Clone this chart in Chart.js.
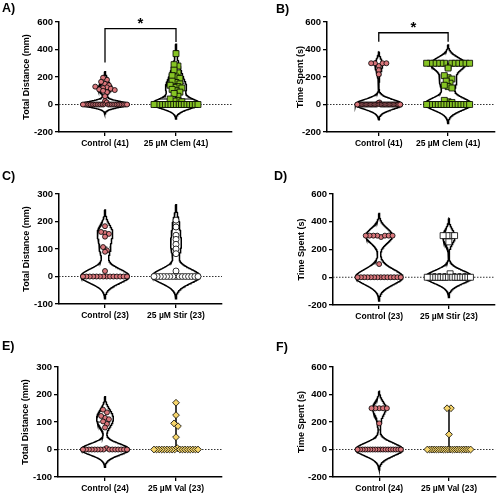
<!DOCTYPE html>
<html>
<head>
<meta charset="utf-8">
<title>Violin plots</title>
<script src="https://cdn.jsdelivr.net/npm/chart.js@4.4.1/dist/chart.umd.min.js"></script>
<style>
  html, body { margin: 0; padding: 0; background: #fff; }
  #wrap { position: relative; width: 500px; height: 493px; overflow: hidden; }
  #wrap canvas { position: absolute; }
</style>
</head>
<body>
<div id="wrap">
  <canvas id="chartA" width="250" height="165" style="left:0;top:0"></canvas>
  <canvas id="chartB" width="250" height="165" style="left:250px;top:0"></canvas>
  <canvas id="chartC" width="250" height="163" style="left:0;top:165px"></canvas>
  <canvas id="chartD" width="250" height="163" style="left:250px;top:165px"></canvas>
  <canvas id="chartE" width="250" height="165" style="left:0;top:328px"></canvas>
  <canvas id="chartF" width="250" height="165" style="left:250px;top:328px"></canvas>
</div>
<script>
// values
const distanceTitle = 'Total Distance (mm)';
const timeTitle = 'Time Spent (s)';

const ticksWide = [-200, 0, 200, 400, 600];
const ticksNarrow = [-100, 0, 100, 200, 300];

const catsA = ['Control (41)', '25 µM Clem (41)'];
const catsC = ['Control (23)', '25 µM Stir (23)'];
const catsE = ['Control (24)', '25 µM Val (23)'];

// A) total distance, clemastine
const controlA = [195, 180, 165, 150, 140, 130, 125, 120, 115, 110, 105, 100, 90, 60, 25, 15,
  0, 0, 0, 0, 0, 0, 0, 0, 0, 0, 0, 0, 0, 0, 0, 0, 0, 0, 0, 0, 0, 0, 0, 0, 0];
const clemA = [370, 290, 280, 250, 230, 210, 200, 190, 170, 160, 150, 140, 130, 125, 120, 110,
  100, 90, 80, 60, 40, 30, 25, 20,
  0, 0, 0, 0, 0, 0, 0, 0, 0, 0, 0, 0, 0, 0, 0, 0, 0];

// B) time spent, clemastine
const controlB = [300, 300, 300, 300, 280, 250, 220, 15, 10,
  0, 0, 0, 0, 0, 0, 0, 0, 0, 0, 0, 0, 0, 0, 0, 0,
  0, 0, 0, 0, 0, 0, 0, 0, 0, 0, 0, 0, 0, 0, 0, 0];
const clemB = [300, 300, 300, 300, 300, 300, 300, 300, 300, 300, 300, 300,
  275, 265, 210, 195, 185, 170, 155, 140, 130, 120, 30, 20, 15,
  0, 0, 0, 0, 0, 0, 0, 0, 0, 0, 0, 0, 0, 0, 0, 0];

// C) total distance, stiripentol
const controlC = [183, 162, 158, 155, 145, 107, 95, 90, 20,
  0, 0, 0, 0, 0, 0, 0, 0, 0, 0, 0, 0, 0, 0];
const stirC = [205, 180, 150, 135, 117, 100, 83, 20,
  0, 0, 0, 0, 0, 0, 0, 0, 0, 0, 0, 0, 0, 0, 0];

// D) time spent, stiripentol
const controlD = [300, 300, 300, 300, 300, 300, 300, 290, 95,
  0, 0, 0, 0, 0, 0, 0, 0, 0, 0, 0, 0, 0, 0];
const stirD = [300, 300, 300, 300, 255, 25,
  0, 0, 0, 0, 0, 0, 0, 0, 0, 0, 0, 0, 0, 0, 0, 0, 0];

// E) total distance, valproate
const controlE = [145, 135, 122, 115, 110, 102, 93, 80, 5,
  0, 0, 0, 0, 0, 0, 0, 0, 0, 0, 0, 0, 0, 0, 0];
const valE = [170, 125, 95, 85, 45, 5,
  0, 0, 0, 0, 0, 0, 0, 0, 0, 0, 0, 0, 0, 0, 0, 0, 0];

// F) time spent, valproate
const controlF = [300, 300, 300, 300, 300, 190,
  0, 0, 0, 0, 0, 0, 0, 0, 0, 0, 0, 0, 0, 0, 0, 0, 0, 0];
const valF = [300, 300, 110,
  0, 0, 0, 0, 0, 0, 0, 0, 0, 0, 0, 0, 0, 0, 0, 0, 0, 0, 0, 0];

// styling
const FONT = '"Liberation Sans", Arial, sans-serif';
const pink = '#d9767b';
const green = '#86c424';
const yellow = '#f6d56b';
const white = '#ffffff';

const ctrlStyle = { marker: 'circle', radius: 2.5, color: pink, smooth: true };

// area = [left, top, right, bottom] of plot box inside each canvas; cx = pixel x of both groups
const panels = [
  { id: 'A', letter: 'A)', lx: 2, ly: 2, cats: catsA, title: distanceTitle, ticks: ticksWide,
    series: [controlA, clemA], area: [59, 22, 232, 132], cx: [105, 176], titleX: 27,
    styles: [ctrlStyle, { marker: 'rect', radius: 4.2, color: green, smooth: true }],
    bracket: { y: 552, ends: [305, 455] } },
  { id: 'B', letter: 'B)', lx: 26, ly: 3, cats: catsA, title: timeTitle, ticks: ticksWide,
    series: [controlB, clemB], area: [77, 22, 249, 132], cx: [130, 201], titleX: 51,
    styles: [ctrlStyle, { marker: 'rect', radius: 4.2, color: green, smooth: true }],
    bracket: { y: 522, ends: [456, 456] } },
  { id: 'C', letter: 'C)', lx: 2, ly: 5, cats: catsC, title: distanceTitle, ticks: ticksNarrow,
    series: [controlC, stirC], area: [59, 29, 222, 139], cx: [105, 176], titleX: 27,
    styles: [ctrlStyle, { marker: 'circle', radius: 3, color: white, smooth: true }] },
  { id: 'D', letter: 'D)', lx: 24, ly: 5, cats: catsC, title: timeTitle, ticks: ticksWide,
    series: [controlD, stirD], area: [83, 29, 248, 140], cx: [130, 201], titleX: 52,
    styles: [ctrlStyle, { marker: 'rect', radius: 4.2, color: white, smooth: true }] },
  { id: 'E', letter: 'E)', lx: 2, ly: 12, cats: catsE, title: distanceTitle, ticks: ticksNarrow,
    series: [controlE, valE], area: [58, 39, 222, 149], cx: [105, 176], titleX: 26,
    styles: [ctrlStyle, { marker: 'rectRot', radius: 3.4, color: yellow, smooth: false }] },
  { id: 'F', letter: 'F)', lx: 26, ly: 13, cats: catsE, title: timeTitle, ticks: ticksWide,
    series: [controlF, valF], area: [83, 39, 248, 149], cx: [130, 201], titleX: 52,
    styles: [ctrlStyle, { marker: 'rectRot', radius: 3.4, color: yellow, smooth: false }] }
];

const HALF_WIDTH = 0.34;   // widest violin half width, in group units
const CUTOFF = 0.006;
const POINT_STEP = 0.055;  // sideways gap between points on one level

function quantile(sorted, p) {
  const n = sorted.length;
  const pos = (n + 1) * p;
  if (pos <= 1) return sorted[0];
  if (pos >= n) return sorted[n - 1];
  const lo = Math.floor(pos);
  return sorted[lo - 1] + (pos - lo) * (sorted[lo] - sorted[lo - 1]);
}

// kernel density outline for one group
function violin(vals, c, smooth) {
  const n = vals.length;
  const mean = vals.reduce((a, b) => a + b, 0) / n;
  const sd = Math.sqrt(vals.reduce((a, b) => a + (b - mean) ** 2, 0) / (n - 1));
  const h = smooth ? 0.7 * sd * Math.pow(n, -0.2) : 0;
  const lo = Math.min(...vals), hi = Math.max(...vals);
  if (!h) return { outline: [{ x: c, y: lo }, { x: c, y: hi }], halfAt: () => 0 };

  const start = lo - 4 * h, end = hi + 4 * h, steps = 300;
  const grid = [];
  for (let k = 0; k <= steps; k++) {
    const y = start + (end - start) * k / steps;
    let d = 0;
    vals.forEach(v => { d += Math.exp(-0.5 * ((y - v) / h) ** 2); });
    grid.push({ y, d });
  }
  const maxD = Math.max(...grid.map(g => g.d));
  const kept = grid.filter(g => g.d >= CUTOFF * maxD);
  const right = kept.map(g => ({ x: c + HALF_WIDTH * g.d / maxD, y: g.y }));
  const left = kept.slice().reverse().map(g => ({ x: c - HALF_WIDTH * g.d / maxD, y: g.y }));
  const outline = right.concat(left);
  outline.push(right[0]);

  const halfAt = y => {
    let d = 0;
    vals.forEach(v => { d += Math.exp(-0.5 * ((y - v) / h) ** 2); });
    return HALF_WIDTH * d / maxD;
  };
  return { outline, halfAt };
}

// spread points that share a level sideways; odd values sit near the middle
function spreadX(vals, c, binSize) {
  const sorted = vals.slice().sort((a, b) => b - a);
  const pts = [];
  let i = 0;
  while (i < sorted.length) {
    let j = i;
    while (j < sorted.length && sorted[i] - sorted[j] <= binSize) j++;
    const row = sorted.slice(i, j);
    const n = row.length;
    const step = n > 1 ? Math.min(POINT_STEP, 0.62 / (n - 1)) : 0;

    const counts = {};
    row.forEach(v => { counts[v] = (counts[v] || 0) + 1; });
    let mode = row[0];
    Object.keys(counts).forEach(k => { if (counts[k] > counts[mode]) mode = Number(k); });
    const ordered = row.filter(v => v !== mode).concat(row.filter(v => v === mode));

    const slots = [];
    for (let k = 0; k < n; k++) slots.push(k - (n - 1) / 2);
    slots.sort((a, b) => Math.abs(a) - Math.abs(b) || b - a);

    ordered.forEach((v, k) => pts.push({ x: c + slots[k] * step, y: v }));
    i = j;
  }
  return pts;
}

const panelDecor = {
  id: 'panelDecor',
  afterDraw(chart, args, opts) {
    const ctx = chart.ctx;
    ctx.save();
    ctx.fillStyle = '#000';
    ctx.font = 'bold 12.5px ' + FONT;
    ctx.textBaseline = 'top';
    ctx.textAlign = 'left';
    ctx.fillText(opts.letter, opts.lx, opts.ly);

    if (opts.bracket) {
      const xs = chart.scales.x, ys = chart.scales.y;
      const x1 = xs.getPixelForValue(1), x2 = xs.getPixelForValue(2);
      const yt = ys.getPixelForValue(opts.bracket.y);
      ctx.strokeStyle = '#000';
      ctx.lineWidth = 1.3;
      ctx.beginPath();
      ctx.moveTo(x1, ys.getPixelForValue(opts.bracket.ends[0]));
      ctx.lineTo(x1, yt);
      ctx.lineTo(x2, yt);
      ctx.lineTo(x2, ys.getPixelForValue(opts.bracket.ends[1]));
      ctx.stroke();

      ctx.font = 'bold 15px ' + FONT;
      ctx.textAlign = 'center';
      ctx.textBaseline = 'alphabetic';
      const m = ctx.measureText('*');
      const mid = yt - 7.5;
      const base = mid + (m.actualBoundingBoxAscent - m.actualBoundingBoxDescent) / 2;
      ctx.fillText('*', (x1 + x2) / 2, base);
    }
    ctx.restore();
  }
};

function buildPanel(p) {
  const canvas = document.getElementById('chart' + p.id);
  const W = canvas.width, H = canvas.height;
  const [L, T, R, B] = p.area;
  const unit = p.cx[1] - p.cx[0];
  const xmin = 1 - (p.cx[0] - L) / unit;
  const xmax = 2 + (R - p.cx[1]) / unit;
  const ymin = p.ticks[0], ymax = p.ticks[p.ticks.length - 1];
  const binSize = (ymax - ymin) * 0.035;
  const padLeft = p.titleX - 9.4;

  const datasets = [{
    data: [{ x: xmin, y: 0 }, { x: xmax, y: 0 }],
    showLine: true, borderColor: '#333', borderWidth: 1, borderDash: [1.5, 1.5],
    pointRadius: 0, order: 4
  }];

  p.series.forEach((vals, i) => {
    const c = i + 1;
    const st = p.styles[i];
    const v = violin(vals, c, st.smooth);
    datasets.push({
      data: v.outline, showLine: true, borderColor: '#000', borderWidth: 1.5,
      pointRadius: 0, tension: 0, order: 3
    });

    if (st.smooth) {
      const sorted = vals.slice().sort((a, b) => a - b);
      const med = quantile(sorted, 0.5);
      [quantile(sorted, 0.25), quantile(sorted, 0.75)].forEach(q => {
        if (q === med) return;
        const w = v.halfAt(q);
        datasets.push({
          data: [{ x: c - w, y: q }, { x: c + w, y: q }], showLine: true,
          borderColor: '#000', borderWidth: 1, borderDash: [3, 2], pointRadius: 0, order: 2
        });
      });
      const wm = v.halfAt(med);
      datasets.push({
        data: [{ x: c - wm, y: med }, { x: c + wm, y: med }], showLine: true,
        borderColor: '#000', borderWidth: 1.2, pointRadius: 0, order: 2
      });
    }

    datasets.push({
      data: spreadX(vals, c, binSize),
      pointStyle: st.marker, pointRadius: st.radius,
      backgroundColor: st.color, borderColor: '#000', borderWidth: 0.8,
      showLine: false, order: 0
    });
  });

  const gridOpts = {
    display: true, drawOnChartArea: false, drawTicks: true,
    tickLength: 4, color: '#000', lineWidth: 1.3
  };

  new Chart(canvas, {
    type: 'scatter',
    data: { datasets },
    options: {
      responsive: false,
      animation: false,
      events: [],
      layout: { padding: { left: padLeft, top: T, right: W - R, bottom: 0 } },
      plugins: {
        legend: { display: false },
        tooltip: { enabled: false },
        panelDecor: { letter: p.letter, lx: p.lx, ly: p.ly, bracket: p.bracket }
      },
      scales: {
        x: {
          type: 'linear', min: xmin, max: xmax,
          afterBuildTicks: s => { s.ticks = [{ value: 1 }, { value: 2 }]; },
          afterFit: s => { s.height = H - B; },
          ticks: {
            callback: v => p.cats[v - 1] || '',
            font: { family: FONT, size: 8.5, weight: 'bold' },
            color: '#000', padding: 3, maxRotation: 0, autoSkip: false
          },
          grid: gridOpts,
          border: { display: true, color: '#000', width: 1.5 }
        },
        y: {
          type: 'linear', min: ymin, max: ymax,
          afterBuildTicks: s => { s.ticks = p.ticks.map(t => ({ value: t })); },
          afterFit: s => { s.width = L - padLeft; },
          ticks: {
            font: { family: FONT, size: 9.5, weight: 'bold' },
            color: '#000', padding: 2
          },
          grid: gridOpts,
          border: { display: true, color: '#000', width: 1.5 },
          title: {
            display: true, text: p.title, color: '#000',
            font: { family: FONT, size: 9, weight: 'bold', lineHeight: 1.2 },
            padding: { top: 4, bottom: 0 }
          }
        }
      }
    },
    plugins: [panelDecor]
  });
}

panels.forEach(buildPanel);
</script>
</body>
</html>
